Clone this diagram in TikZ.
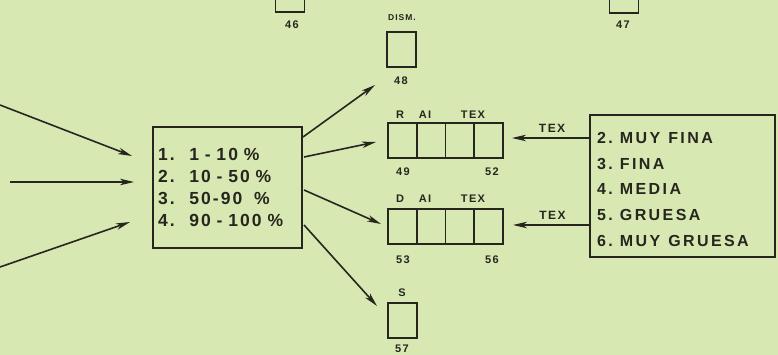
\documentclass[tikz,border=0pt]{standalone}
\usepackage{fontspec}
\setmainfont{Liberation Sans}
\newfontfamily\lf[LetterSpace=12]{Liberation Sans}
\newfontfamily\lfw[LetterSpace=15]{Liberation Sans}
\usetikzlibrary{arrows.meta}
\definecolor{bg}{HTML}{D8E8B2}
\definecolor{ink}{HTML}{26261E}
\begin{document}
\begin{tikzpicture}[x=1pt,y=-1pt,
  box/.style={draw=ink,line width=1.8pt,inner sep=0pt},
  cell/.style={box,outer sep=0pt,minimum width=28.75pt,minimum height=35pt},
  sbox/.style={box,minimum width=29pt,minimum height=35pt},
  arr/.style={draw=ink,line width=1.6pt,-{Stealth[length=14pt,width=6.5pt,inset=4pt]}},
  lab/.style={text=ink,font=\lf\bfseries\fontsize{11}{11}\selectfont,inner sep=0pt},
  big/.style={text=ink,font=\lf\bfseries\fontsize{17.5}{22}\selectfont},
  mid/.style={text=ink,font=\lfw\bfseries\fontsize{16}{25.8}\selectfont}]
\fill[bg] (0,0) rectangle (778,355);
\useasboundingbox (0,0) rectangle (778,355);
% top boxes
\node[sbox,minimum height=40pt] (b46) at (290,-8) {};
\node[lab] (l46) at (292,25) {46};
\node[sbox,minimum height=40pt] (b47) at (624,-7) {};
\node[lab] (l47) at (623,25) {47};
\node[sbox] (b48) at (401.5,49.5) {};
\node[lab,font=\lf\bfseries\fontsize{8.5}{8.5}\selectfont] (l48t) at (402,18) {DISM.};
\node[lab] (l48) at (401,81) {48};
% main box
\node[box,minimum width=149pt,minimum height=121pt,text width=139pt,align=left,big,inner xsep=5pt] (main) at (227.5,187.5)
 {1.~ 1 - 10 \%\\2.~ 10 - 50 \%\\3.~ 50-90~ \%\\4.~ 90 - 100 \%};
% R row
\node[cell] (r1) at (402.4,140.5) {};
\node[cell,anchor=west] (r2) at (r1.east) {};
\node[cell,anchor=west] (r3) at (r2.east) {};
\node[cell,anchor=west] (r4) at (r3.east) {};
\node[lab] (lr) at (400,115) {R};
\node[lab] (lra) at (425,115) {AI};
\node[lab] (lrt) at (473,115) {TEX};
\node[lab] (l49) at (403,172) {49};
\node[lab] (l52) at (492,172) {52};
% D row
\node[cell] (d1) at (402.4,226.5) {};
\node[cell,anchor=west] (d2) at (d1.east) {};
\node[cell,anchor=west] (d3) at (d2.east) {};
\node[cell,anchor=west] (d4) at (d3.east) {};
\node[lab] (ld) at (400,199) {D};
\node[lab] (lda) at (425,199) {AI};
\node[lab] (ldt) at (473,199) {TEX};
\node[lab] (l53) at (403,260) {53};
\node[lab] (l56) at (492,260) {56};
% S box
\node[sbox] (b57) at (402.5,320.5) {};
\node[lab] (ls) at (402,293) {S};
\node[lab] (l57) at (402,349) {57};
% right box
\node[box,minimum width=185pt,minimum height=142pt] (tex) at (682.5,186) {};
\node[mid,anchor=north west,align=left,inner sep=0pt] (texlist) at (597,132)
 {2.\hspace{7pt}MUY\hspace{8pt}FINA\\3.\hspace{7pt}FINA\\4.\hspace{7pt}MEDIA\\5.\hspace{7pt}GRUESA\\6.\hspace{7pt}MUY\hspace{8pt}GRUESA};
% incoming arrows
\coordinate (i1) at (0,105);
\coordinate (i2) at (10,182);
\coordinate (i3) at (0,267);
\coordinate (t1) at (132,156);
\coordinate (t2) at (134,182);
\coordinate (t3) at (130,222);
\draw[arr] (i1) -- (t1);
\draw[arr] (i2) -- (t2);
\draw[arr] (i3) -- (t3);
% outgoing arrows
\coordinate (o1) at (303,137);
\coordinate (o2) at (304,157);
\coordinate (o3) at (304,190);
\coordinate (o4) at (304,225);
\coordinate (e1) at (375,85);
\coordinate (e2) at (376,142);
\coordinate (e3) at (381,224);
\coordinate (e4) at (377,306);
\draw[arr] (o1) -- (e1);
\draw[arr] (o2) -- (e2);
\draw[arr] (o3) -- (e3);
\draw[arr] (o4) -- (e4);
% TEX arrows
\coordinate (x1) at (512,138);
\coordinate (x2) at (513,225);
\draw[arr] (tex.west |- x1) -- (x1) node[lab,font=\lf\bfseries\fontsize{12}{12}\selectfont,pos=0.48,above=5pt] (tl1) {TEX};
\draw[arr] (tex.west |- x2) -- (x2) node[lab,font=\lf\bfseries\fontsize{12}{12}\selectfont,pos=0.48,above=5pt] (tl2) {TEX};
\end{tikzpicture}
\end{document}
